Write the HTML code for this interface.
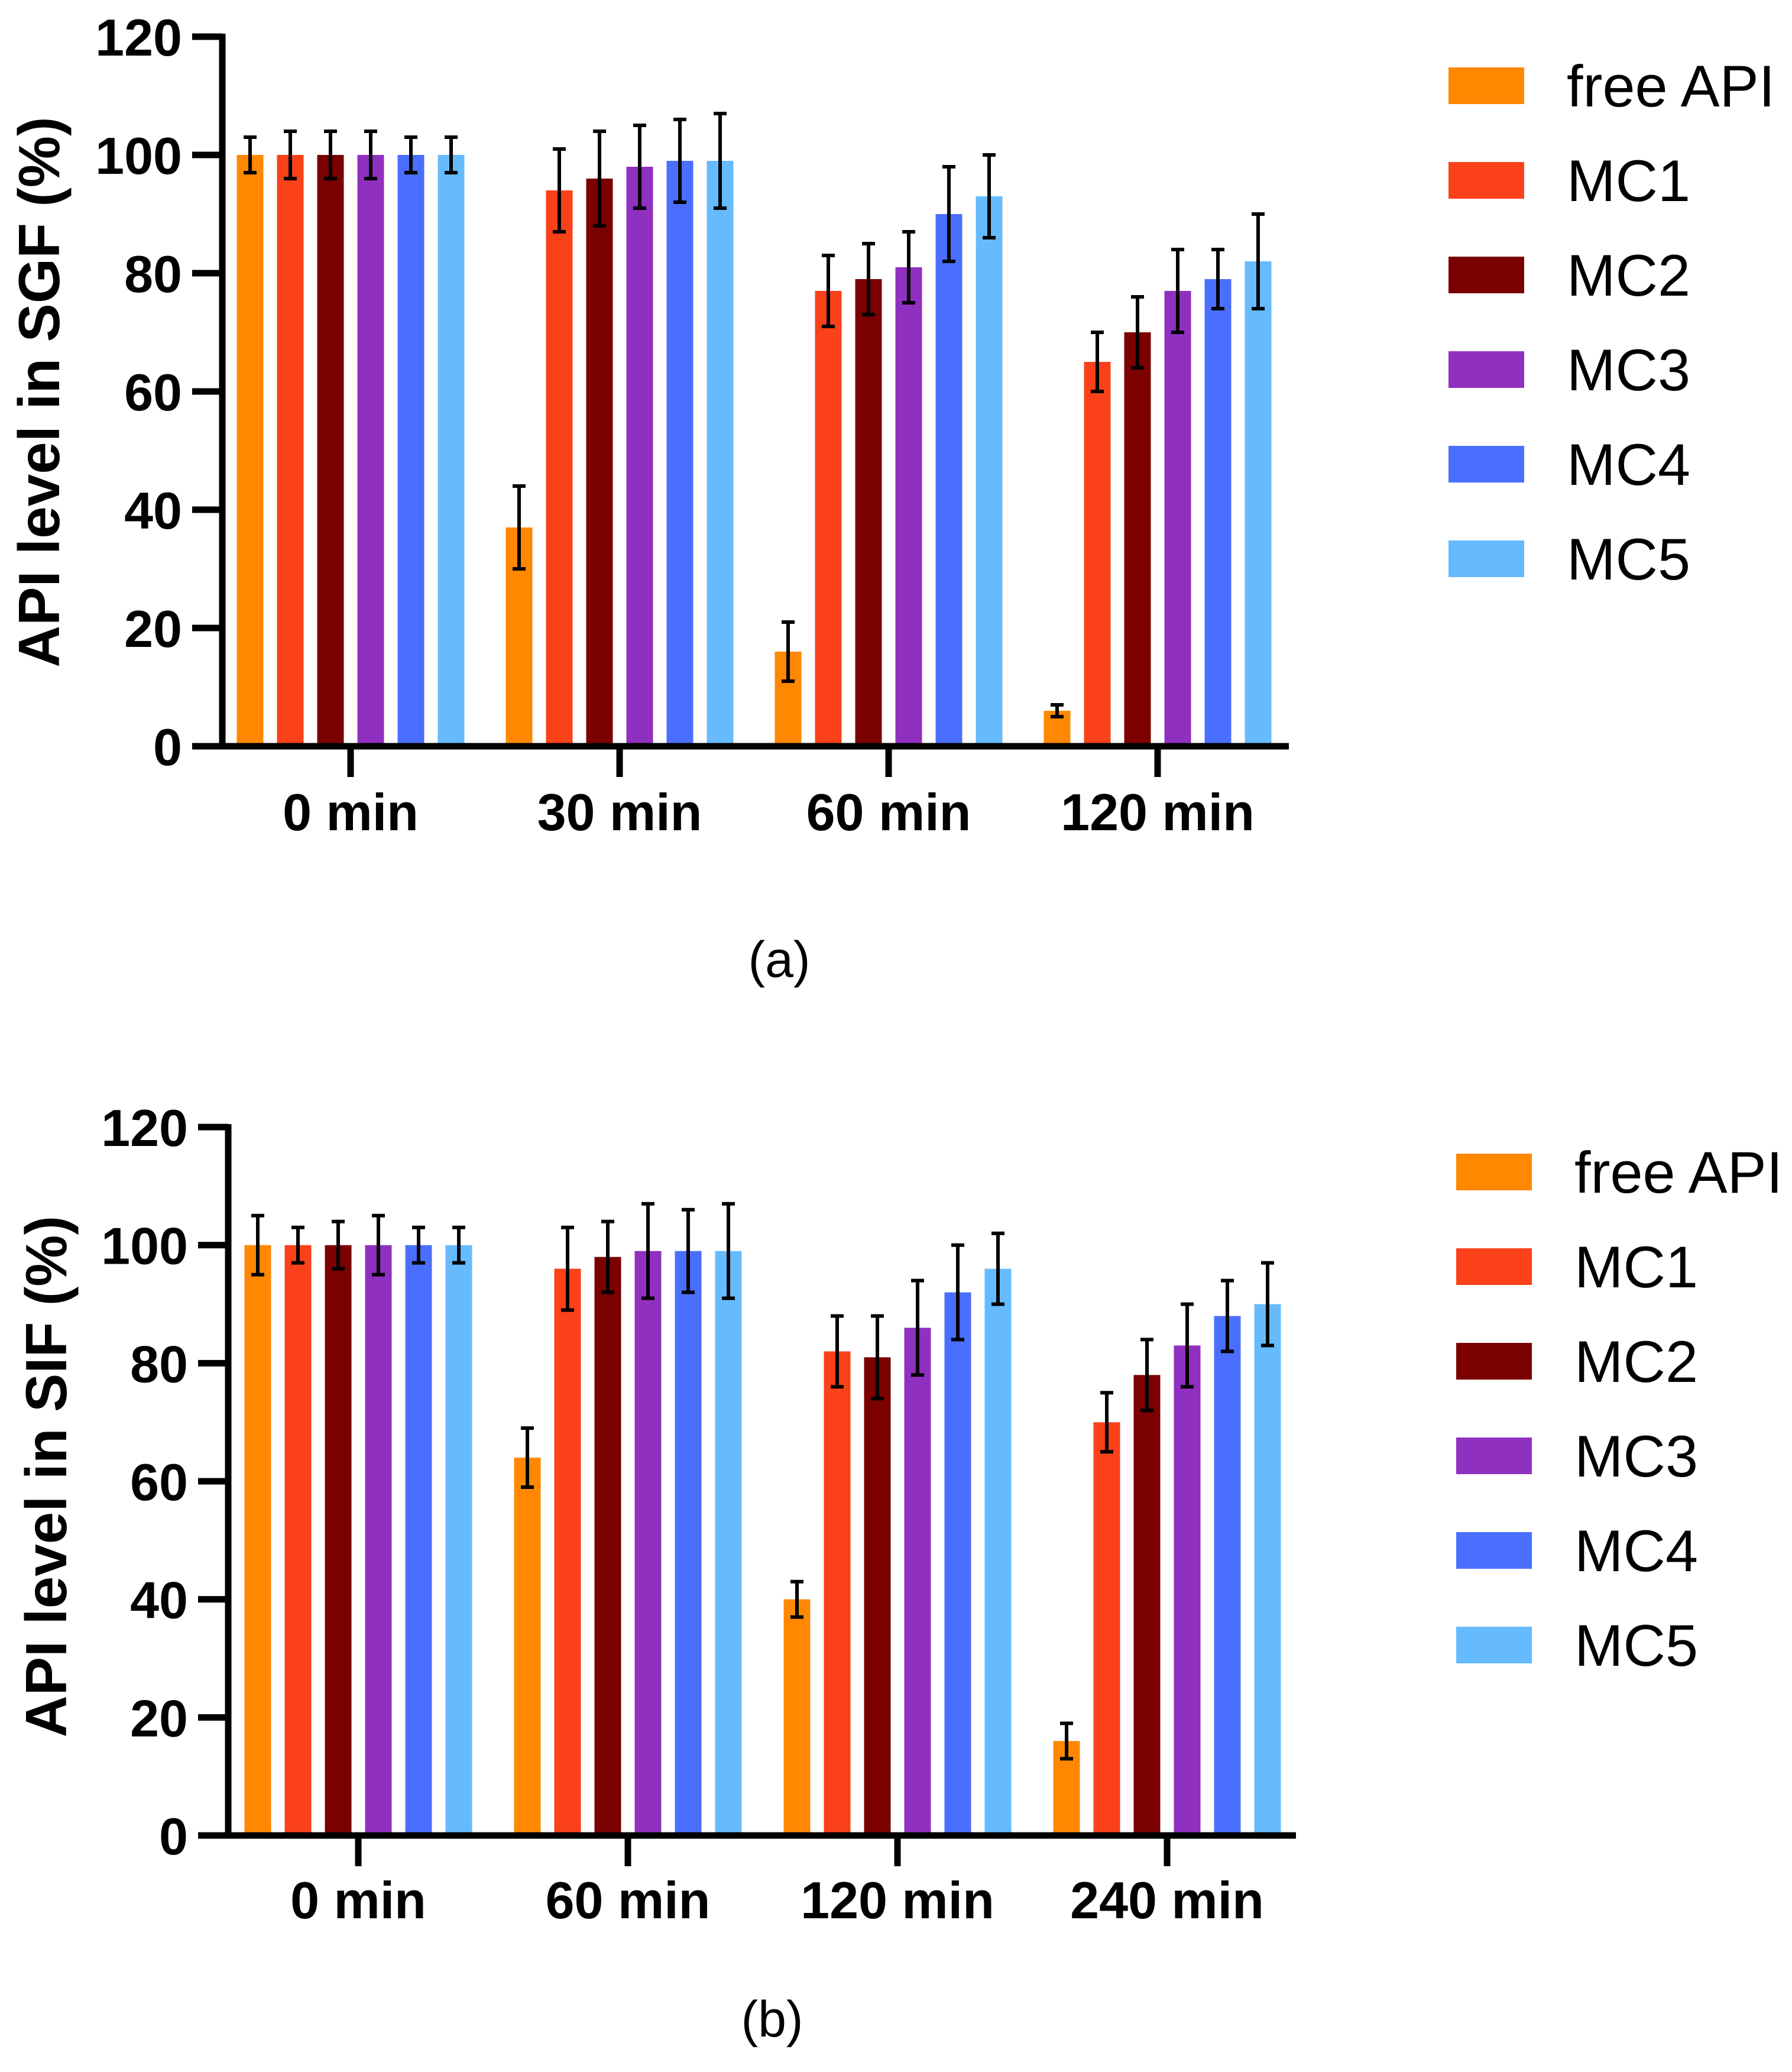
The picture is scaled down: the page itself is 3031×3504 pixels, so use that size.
<!DOCTYPE html>
<html><head><meta charset="utf-8"><style>
html,body{margin:0;padding:0;background:#fff;}
svg{display:block;}
text{font-family:"Liberation Sans",Arial,sans-serif;}
</style></head>
<body>
<svg id="fig" width="3031" height="3504" viewBox="0 0 3031 3504" xmlns="http://www.w3.org/2000/svg">
<rect width="3031" height="3504" fill="#fff"/>
</svg>
<script>
const seriesNames = ["free API","MC1","MC2","MC3","MC4","MC5"];
const seriesColors = ["#FF8800","#FA4119","#7B0000","#9030C0","#4A6FFF","#66BBFF"];
const yTicks = [0,20,40,60,80,100,120];

const catsA = ["0 min","30 min","60 min","120 min"];
const valsA = [
  [100,37,16,6],
  [100,94,77,65],
  [100,96,79,70],
  [100,98,81,77],
  [100,99,90,79],
  [100,99,93,82]
];
const errsA = [
  [3,7,5,1],
  [4,7,6,5],
  [4,8,6,6],
  [4,7,6,7],
  [3,7,8,5],
  [3,8,7,8]
];

const catsB = ["0 min","60 min","120 min","240 min"];
const valsB = [
  [100,64,40,16],
  [100,96,82,70],
  [100,98,81,78],
  [100,99,86,83],
  [100,99,92,88],
  [100,99,96,90]
];
const errsB = [
  [5,5,3,3],
  [3,7,6,5],
  [4,6,7,6],
  [5,8,8,7],
  [3,7,8,6],
  [3,8,6,7]
];

const NS = "http://www.w3.org/2000/svg";
const svg = document.getElementById('fig');
function mk(tag, attrs, parent){
  const e = document.createElementNS(NS, tag);
  for (const k in attrs) e.setAttribute(k, attrs[k]);
  (parent||svg).appendChild(e);
  return e;
}

function drawChart(cfg){
  const g = mk('g', {});
  
  
  const y = v => cfg.y0 - v * (cfg.y0 - cfg.y120) / 120;
  const nC = cfg.cats.length;
  const groupW = 5*68 + 45;
  const cx = i => cfg.firstTick + i * cfg.tickStep;

  for (let s = 0; s < cfg.vals.length; s++){
    for (let c = 0; c < nC; c++){
      const v = cfg.vals[s][c];
      const x = cx(c) - groupW/2 + s*68;
      const b = mk('rect', {x:x, y:y(v), width:45, height:y(0)-y(v), fill:seriesColors[s]}, g);
      
      
      const e = cfg.errs[s][c];
      const mx = x + 22.5;
      const eg = mk('g', {stroke:'#000','stroke-width':6}, g);
      
      
      mk('line', {x1:mx, x2:mx, y1:y(v+e), y2:y(v-e)}, eg);
      mk('line', {x1:mx-11, x2:mx+11, y1:y(v+e), y2:y(v+e)}, eg);
      mk('line', {x1:mx-11, x2:mx+11, y1:y(v-e), y2:y(v-e)}, eg);
    }
  }
  const ya = mk('line', {x1:cfg.ax, x2:cfg.ax, y1:y(120)-5, y2:y(0)+5, stroke:'#000','stroke-width':11}, g);
  
  
  const xa = mk('line', {x1:cfg.ax-5, x2:cfg.axEnd, y1:y(0), y2:y(0), stroke:'#000','stroke-width':11}, g);
  
  
  yTicks.forEach(t => {
    mk('line', {x1:cfg.ax-51, x2:cfg.ax, y1:y(t), y2:y(t), stroke:'#000','stroke-width':11}, g);
    const tl = mk('text', {x:cfg.ax-68, y:y(t)+32, 'text-anchor':'end','font-size':88,'font-weight':'bold'}, g);
    tl.textContent = t;
    
    
  });
  cfg.cats.forEach((c,i) => {
    mk('line', {x1:cx(i), x2:cx(i), y1:y(0), y2:y(0)+52, stroke:'#000','stroke-width':11}, g);
    const tl = mk('text', {x:cx(i), y:cfg.xLabelY, 'text-anchor':'middle','font-size':88,'font-weight':'bold'}, g);
    tl.textContent = c;
    
    
  });
  const yt = mk('text', {x:0, y:0, 'text-anchor':'middle','font-size':98,'font-weight':'bold',
    transform:'translate(' + (cfg.titleX) + ',' + cfg.titleY + ') rotate(-90)'}, g);
  yt.textContent = cfg.yTitle;
  
  
  seriesNames.forEach((n,i) => {
    const lg = mk('g', {}, g);
    
    
    const cy = cfg.legY + i*160;
    mk('rect', {x:cfg.legX, y:cy-31, width:128, height:62, fill:seriesColors[i]}, lg);
    const lt = mk('text', {x:cfg.legX+200, y:cy+35, 'font-size':99}, lg);
    lt.textContent = n;
  });
  const pl = mk('text', {x:cfg.panelX, y:cfg.panelY, 'text-anchor':'middle','font-size':86}, g);
  pl.textContent = cfg.panel;
  
  
}

drawChart({name:'chart-sgf', cats:catsA, vals:valsA, errs:errsA, y0:1262, y120:62,
  ax:376, axEnd:2180, firstTick:593, tickStep:455, xLabelY:1404,
  titleX:100, titleY:663, yTitle:'API level in SGF (%)',
  legX:2450, legY:145, panelX:1318, panelY:1652, panel:'(a)'});
drawChart({name:'chart-sif', cats:catsB, vals:valsB, errs:errsB, y0:3104, y120:1906,
  ax:386, axEnd:2192, firstTick:606, tickStep:456, xLabelY:3244,
  titleX:112, titleY:2497, yTitle:'API level in SIF (%)',
  legX:2463, legY:1982, panelX:1306, panelY:3444, panel:'(b)'});
</script>
</body></html>
